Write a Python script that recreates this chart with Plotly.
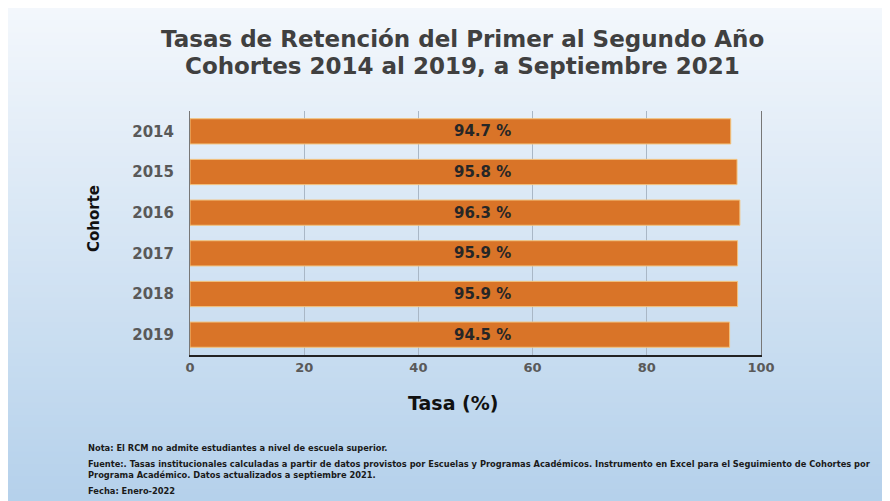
import plotly.graph_objects as go

cohortes = ["2014", "2015", "2016", "2017", "2018", "2019"]
tasas = [94.7, 95.8, 96.3, 95.9, 95.9, 94.5]
x_ticks = [0, 20, 40, 60, 80, 100]

titulo_1 = "Tasas de Retención del Primer al Segundo Año"
titulo_2 = "Cohortes 2014 al 2019, a Septiembre 2021"
titulo_x = "Tasa (%)"
titulo_y = "Cohorte"
nota = "Nota: El RCM no admite estudiantes a nivel de escuela superior."
fuente = ("Fuente:. Tasas institucionales calculadas a partir de datos provistos por Escuelas y Programas Académicos. "
          "Instrumento en Excel para el Seguimiento de Cohortes por<br>Programa Académico. Datos actualizados a septiembre 2021.")
fecha = "Fecha: Enero-2022"

W, H = 882, 493
L, R, T, B = 182, 129, 103, 146
PW, PH = W - L - R, H - T - B

def px_x(x):
    return (x - L) / PW

def px_y(y):
    return (H - B - y) / PH

FONT = "DejaVu Sans, Arial, sans-serif"

fig = go.Figure()
fig.add_trace(go.Bar(
    x=tasas, y=list(range(len(cohortes))), orientation="h",
    marker=dict(color="#d97428", line=dict(color="#f3c27c", width=1)),
    hoverinfo="skip",
))

# gradient background
n = 80
c0 = (243, 247, 252)
c1 = (181, 209, 235)
for i in range(n):
    t = i / (n - 1)
    col = tuple(round(c0[k] + (c1[k] - c0[k]) * t) for k in range(3))
    fig.add_shape(type="rect", xref="paper", yref="paper",
                  x0=px_x(0), x1=px_x(W),
                  y0=px_y(i * H / n), y1=px_y((i + 1) * H / n + 1),
                  fillcolor="rgb(%d,%d,%d)" % col, line=dict(width=0), layer="below")

annotations = []
for i, v in enumerate(tasas):
    annotations.append(dict(x=0.513, xref="paper", y=i, yref="y", text="<b>%.1f %%</b>" % v,
                            showarrow=False, font=dict(family=FONT, size=15, color="#262626")))

annotations += [
    dict(x=px_x(454), y=px_y(31), xref="paper", yref="paper", xanchor="center", yanchor="middle",
         text="<b>" + titulo_1 + "</b>", showarrow=False,
         font=dict(family=FONT, size=23, color="#404040")),
    dict(x=px_x(454), y=px_y(58), xref="paper", yref="paper", xanchor="center", yanchor="middle",
         text="<b>" + titulo_2 + "</b>", showarrow=False,
         font=dict(family=FONT, size=23, color="#404040")),
    dict(x=px_x(445), y=px_y(395), xref="paper", yref="paper", xanchor="center", yanchor="middle",
         text="<b>" + titulo_x + "</b>", showarrow=False,
         font=dict(family=FONT, size=19, color="#111111")),
    dict(x=px_x(86), y=px_y(211), xref="paper", yref="paper", xanchor="center", yanchor="middle",
         text="<b>" + titulo_y + "</b>", showarrow=False, textangle=-90,
         font=dict(family=FONT, size=15, color="#111111")),
]

foot_font = dict(family=FONT, size=8.3, color="#1a1a1a")
annotations += [
    dict(x=px_x(78), y=px_y(440), xref="paper", yref="paper", xanchor="left", yanchor="middle",
         text="<b>" + nota + "</b>", showarrow=False, align="left", font=foot_font),
    dict(x=px_x(78), y=px_y(461), xref="paper", yref="paper", xanchor="left", yanchor="middle",
         text="<b>" + fuente + "</b>", showarrow=False, align="left", font=foot_font),
    dict(x=px_x(78), y=px_y(483), xref="paper", yref="paper", xanchor="left", yanchor="middle",
         text="<b>" + fecha + "</b>", showarrow=False, align="left", font=foot_font),
]

fig.update_layout(
    width=W, height=H,
    margin=dict(l=L, r=R, t=T, b=B),
    paper_bgcolor="#eef4fa",
    plot_bgcolor="rgba(0,0,0,0)",
    bargap=0.38,
    showlegend=False,
    annotations=annotations,
    xaxis=dict(range=[0, 100], tickvals=x_ticks, ticktext=[str(t) for t in x_ticks],
               showgrid=True, gridcolor="#a9b7c6", gridwidth=1,
               showline=True, linecolor="#222222", linewidth=1.5,
               ticks="", zeroline=False,
               tickfont=dict(family=FONT, size=13, color="#595959", weight="bold")),
    yaxis=dict(range=[len(cohortes) - 0.5, -0.5],
               tickvals=list(range(len(cohortes))), ticktext=cohortes,
               showline=True, linecolor="#777777", linewidth=1, mirror=True,
               ticks="", showgrid=False, zeroline=False,
               tickfont=dict(family=FONT, size=15, color="#595959", weight="bold"),
               ticklabelstandoff=12),
)

fig.write_html("out.html")
